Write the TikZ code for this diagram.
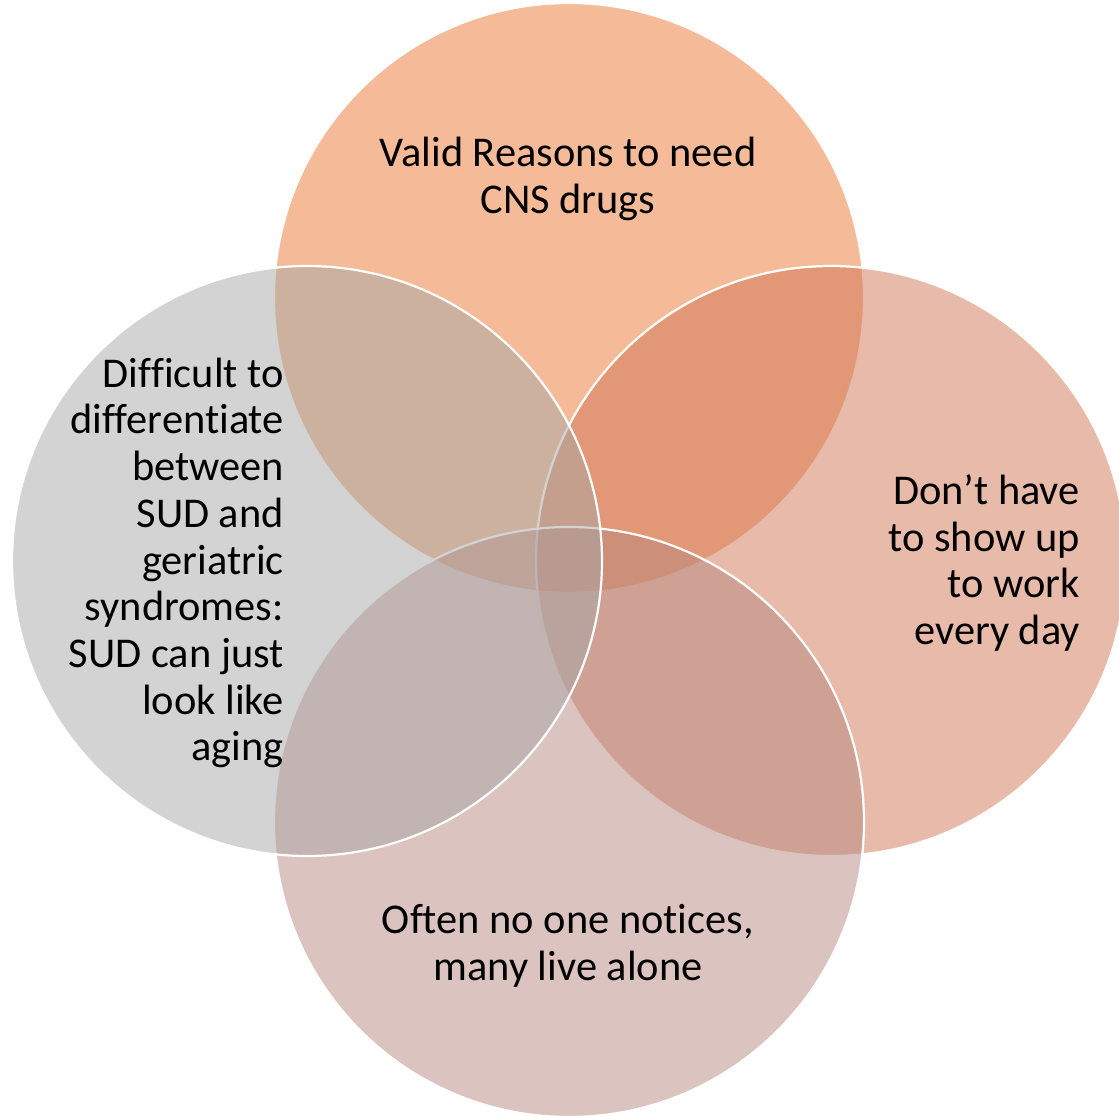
\documentclass[tikz,border=0pt]{standalone}
\usepackage{fontspec}
\setmainfont{Carlito}[Ligatures=NoCommon]
\definecolor{ctop}{RGB}{235,120,50}
\definecolor{cright}{RGB}{209,117,85}
\definecolor{cbottom}{RGB}{183,135,127}
\definecolor{cleft}{RGB}{167,167,167}
\begin{document}
\begin{tikzpicture}[x=1pt,y=-1pt,
  venn/.style={draw=white,line width=2.2pt,fill opacity=0.5,draw opacity=1},
  lbl/.style={font=\fontsize{42.4}{46.7}\selectfont,text=black,inner sep=0pt}]
\useasboundingbox (0,0) rectangle (1119,1116);
\filldraw[venn,fill=ctop] (569,298) circle (295);
\filldraw[venn,fill=cright] (831,561) circle (295);
\filldraw[venn,fill=cbottom] (569,822) circle (295);
\filldraw[venn,fill=cleft] (307,561) circle (295);
\node[lbl,align=center] (t) at (568,179) {Valid Reasons to need\\CNS drugs};
\node[lbl,align=right,anchor=east] (l) at (284,563) {Difficult to\\differentiate\\between\\SUD and\\geriatric\\syndromes:\\SUD can just\\look like\\aging};
\node[lbl,align=right,anchor=east] (r) at (1080,563) {Don’t have\\to show up\\to work\\every day};
\node[lbl,align=center] (b) at (568,946) {Often no one notices,\\many live alone};
\end{tikzpicture}
\end{document}
